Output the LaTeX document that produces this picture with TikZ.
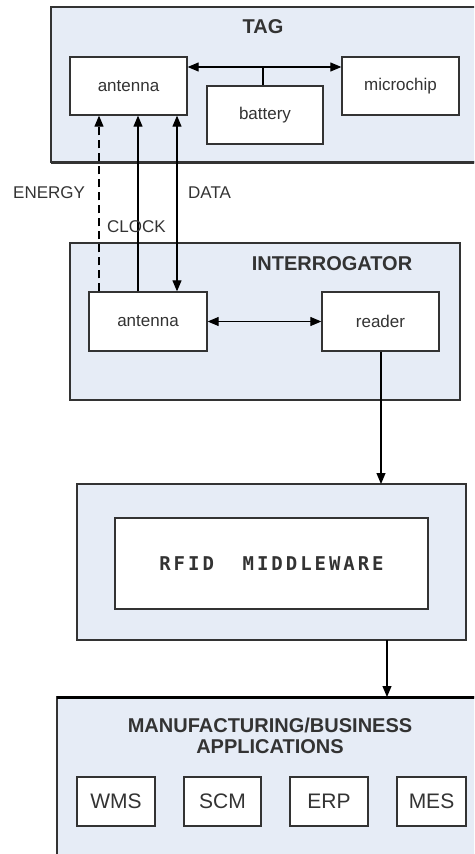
\documentclass[tikz,border=0pt]{standalone}
\usepackage{fontspec}
\setmainfont{Liberation Sans}
\newfontfamily\mwfont[LetterSpace=15.5]{DejaVu Sans Mono}
\usetikzlibrary{arrows.meta}
\definecolor{panel}{HTML}{E6ECF6}
\definecolor{ink}{HTML}{333333}
\tikzset{
  panelbox/.style={draw=ink, line width=1.3pt, fill=panel},
  inbox/.style={draw=ink, line width=1.3pt, fill=white, rectangle, inner sep=0pt, font=\fontsize{17}{20}\selectfont, text=ink},
  appbox/.style={inbox, font=\fontsize{21}{24}\selectfont},
  lbl/.style={font=\fontsize{17}{20}\selectfont, text=ink, inner sep=0pt},
  ttl/.style={font=\bfseries\fontsize{20}{24}\selectfont, text=ink, inner sep=0pt, align=center},
  conn/.style={draw=black, line width=1.1pt},
  tip/.style={-{Triangle[length=11pt,width=9pt]}},
  tips/.style={{Triangle[length=11pt,width=9pt]}-{Triangle[length=11pt,width=9pt]}}
}
\begin{document}
\begin{tikzpicture}[x=1pt,y=-1pt]
\useasboundingbox (0,0) rectangle (474,854);
\begin{scope}
\clip (0,0) rectangle (474,854);
% panels
\draw[panelbox] (51,7) rectangle (490,162);
\draw[draw=ink, line width=3pt] (51,162) -- (490,162);
\draw[panelbox] (70,243) rectangle (460,400);
\draw[panelbox] (77,484) rectangle (466,640);
\draw[panelbox] (57,697) rectangle (490,870);
\draw[draw=black, line width=3pt] (57,697) -- (490,697);
\end{scope}
% titles
\node[ttl] (tagt) at (263,27) {TAG};
\node[ttl] (intt) at (332,264) {INTERROGATOR};
\node[ttl] (appt) at (270,736) {MANUFACTURING/BUSINESS\\[-3pt]APPLICATIONS};
% tag nodes
\node[inbox, minimum width=117pt, minimum height=58pt] (ta) at (128.5,86) {antenna};
\node[inbox, minimum width=116pt, minimum height=58pt] (bat) at (265,115) {battery};
\node[inbox, minimum width=117pt, minimum height=58pt] (mc) at (400.5,86) {microchip};
% interrogator nodes
\node[inbox, minimum width=118pt, minimum height=59pt] (ia) at (148,321.5) {antenna};
\node[inbox, minimum width=117pt, minimum height=59pt] (rd) at (380.5,321.5) {reader};
% middleware
\node[inbox, minimum width=313pt, minimum height=91pt] (mw) at (271.5,563.5) {\mwfont\bfseries\fontsize{19}{22}\selectfont RFID\ \ MIDDLEWARE};
\coordinate (mwtop) at (381,484);
\coordinate (mwbot) at (387,640);
\coordinate (apptop) at (387,697);
% apps
\node[appbox, minimum width=78pt, minimum height=49pt] (wms) at (116,801.5) {WMS};
\node[appbox, minimum width=77pt, minimum height=49pt] (scm) at (222.5,801.5) {SCM};
\node[appbox, minimum width=78pt, minimum height=49pt] (erp) at (329,801.5) {ERP};
\node[appbox, minimum width=69pt, minimum height=49pt] (mes) at (431.5,801.5) {MES};
% tag connectors
\coordinate (bus) at (263,67);
\draw[conn, tips] (ta.east |- bus) -- (mc.west |- bus);
\draw[conn] (bus) -- (bus |- bat.north);
% antenna links
\coordinate (xe) at (99,0);
\coordinate (xc) at (138,0);
\coordinate (xd) at (177,0);
\draw[conn, tip, dash pattern=on 8pt off 5pt] (ia.north -| xe) -- (ta.south -| xe);
\draw[conn, tip] (ia.north -| xc) -- (ta.south -| xc);
\draw[conn, tips] (ia.north -| xd) -- (ta.south -| xd);
\node[lbl, anchor=west] (energy) at (13,193) {ENERGY};
\node[lbl, anchor=west] (data) at (188,193) {DATA};
\node[lbl, anchor=west] (clock) at (107,227) {CLOCK};
% interrogator connectors
\draw[conn, tips] (ia.east) -- (rd.west);
\draw[conn, tip] (rd.south -| mwtop) -- (mwtop);
\draw[conn, tip] (mwbot) -- (apptop);
\end{tikzpicture}
\end{document}
